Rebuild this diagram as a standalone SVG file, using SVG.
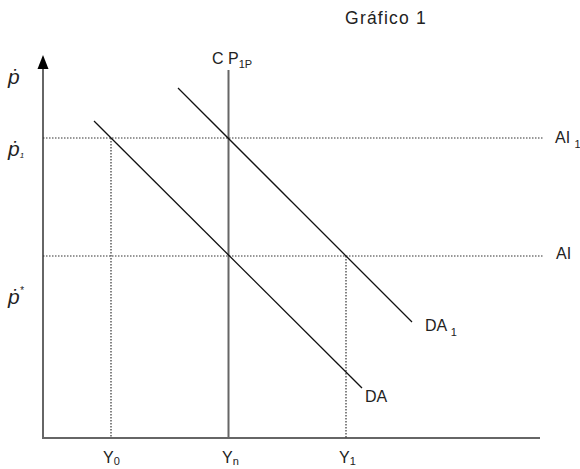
<svg xmlns="http://www.w3.org/2000/svg" width="580" height="469" viewBox="0 0 580 469">
<style>
text{font-family:"Liberation Sans",Arial,sans-serif;fill:#222}
.lb{font-size:16px}
.tt{font-size:17.5px;letter-spacing:1.2px}
.it{font-style:italic;font-size:21px}
.dot{stroke:#333;stroke-width:1.2;stroke-dasharray:1.5 1.5;fill:none}
.ax{stroke:#666;stroke-width:2;fill:none}
.da{stroke:#111;stroke-width:1.3;fill:none}
</style>
<rect width="580" height="469" fill="#fff"/>
<text class="tt" x="386" y="24" text-anchor="middle">Gráfico 1</text>
<g id="axes">
<line class="ax" x1="43" y1="66" x2="43" y2="438"/>
<line class="ax" x1="42" y1="438" x2="540" y2="438"/>
<polygon points="43,55 37.5,69 48.5,69" fill="#000"/>
</g>
<g id="connectors">
<line class="dot" x1="43" y1="138" x2="544" y2="138"/>
<line class="dot" x1="43" y1="256" x2="544" y2="256"/>
<line class="dot" x1="111" y1="138" x2="111" y2="438"/>
<line class="dot" x1="346" y1="256" x2="346" y2="438"/>
<line class="ax" x1="228.5" y1="70" x2="228.5" y2="438"/>
<line class="da" x1="94" y1="121" x2="362" y2="388"/>
<line class="da" x1="178" y1="88" x2="412" y2="322"/>
</g>
<g id="labels">
<text class="it" x="8" y="84">ṗ</text>
<text class="it" x="8" y="156">ṗ<tspan font-size="8" dy="2">1</tspan></text>
<text class="it" x="8" y="304">ṗ<tspan font-size="10" dy="-10">*</tspan></text>
<text class="lb" x="212" y="64">C P<tspan font-size="11" dy="4">1P</tspan></text>
<text class="lb" x="555" y="143">AI <tspan font-size="11" dy="5">1</tspan></text>
<text class="lb" x="556" y="259">AI</text>
<text class="lb" x="425" y="331">DA <tspan font-size="11" dy="5">1</tspan></text>
<text class="lb" x="365" y="402">DA</text>
<text class="lb" x="103" y="463">Y<tspan font-size="11" dy="2">0</tspan></text>
<text class="lb" x="222" y="463">Y<tspan font-size="11" dy="2">n</tspan></text>
<text class="lb" x="339" y="463">Y<tspan font-size="11" dy="2">1</tspan></text>
</g>
</svg>
